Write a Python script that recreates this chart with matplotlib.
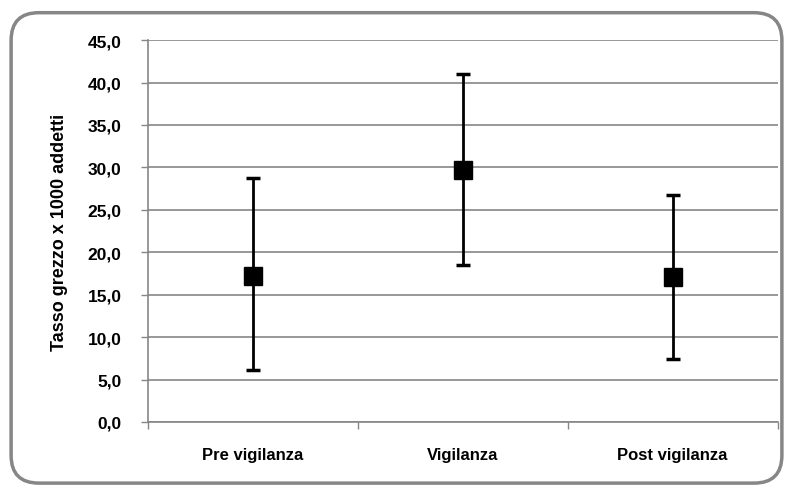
import matplotlib
matplotlib.use("Agg")
import matplotlib.pyplot as plt
from matplotlib.patches import FancyBboxPatch
from matplotlib.ticker import FuncFormatter

plt.rcParams['font.family'] = ['Liberation Sans', 'DejaVu Sans']

categorie = ["Pre vigilanza", "Vigilanza", "Post vigilanza"]
tasso = [17.2, 29.7, 17.1]
limite_inf = [6.1, 18.5, 7.4]
limite_sup = [28.7, 41.0, 26.8]

err_basso = [t - l for t, l in zip(tasso, limite_inf)]
err_alto = [u - t for t, u in zip(tasso, limite_sup)]

fig = plt.figure(figsize=(7.93, 4.89), dpi=100)
ax = fig.add_axes([0.1866, 0.135, 0.794, 0.781])

grigio = "#868686"
x = list(range(len(categorie)))
ax.errorbar(x, tasso, yerr=[err_basso, err_alto], fmt="s", color="black",
            markersize=13.5, ecolor="black", elinewidth=2, capsize=5,
            capthick=2.5, zorder=3)

ax.set_xlim(-0.5, 2.5)
ax.set_ylim(0, 45)
ax.set_yticks(range(0, 46, 5))
ax.yaxis.set_major_formatter(FuncFormatter(lambda v, p: f"{v:.1f}".replace(".", ",")))
ax.set_xticks(x)
ax.set_xticklabels(categorie, fontsize=12, fontweight="bold")
ax.set_xticks([-0.5, 0.5, 1.5, 2.5], minor=True)
ax.tick_params(axis="x", which="major", length=0, pad=18)
ax.tick_params(axis="x", which="minor", length=5, color=grigio, width=1)
ax.tick_params(axis="y", length=5, color=grigio, width=1, labelsize=12.5, pad=14)
for lab in ax.get_yticklabels():
    lab.set_fontweight("bold")

ax.yaxis.grid(True, color=grigio, linewidth=1.2)
ax.set_axisbelow(True)
for lato in ["top", "right"]:
    ax.spines[lato].set_visible(False)
for lato in ["left", "bottom"]:
    ax.spines[lato].set_color(grigio)
    ax.spines[lato].set_linewidth(1.2)

ax.set_ylabel("Tasso grezzo x 1000 addetti", fontsize=13, fontweight="bold", labelpad=14)

bordo = FancyBboxPatch((0.014, 0.01), 0.972, 0.962, boxstyle="round,pad=0,rounding_size=0.035",
                       transform=fig.transFigure, facecolor="none", edgecolor=grigio,
                       linewidth=2.5, mutation_aspect=793 / 489)
fig.patches.append(bordo)

fig.savefig("out.png", dpi=100)
